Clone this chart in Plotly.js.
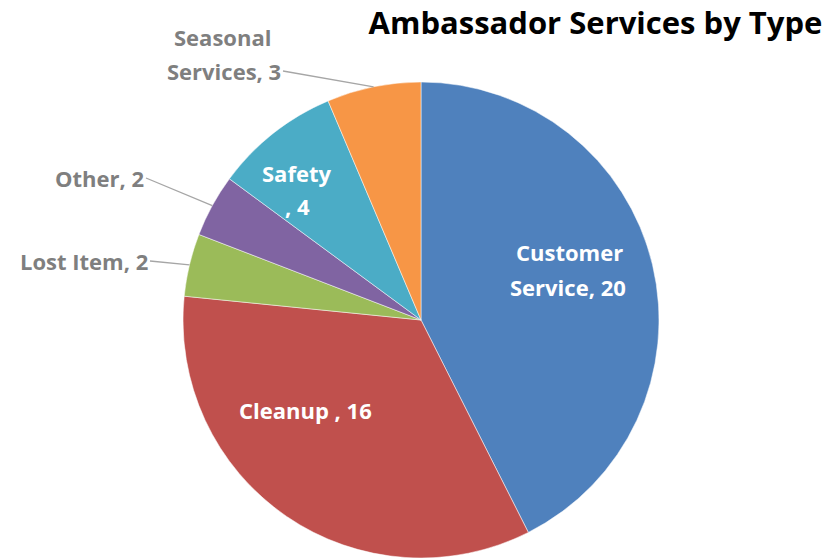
<!DOCTYPE html>
<html>
<head>
<meta charset="utf-8">
<script src="https://cdn.plot.ly/plotly-3.0.1.min.js"></script>
<style>
  body { margin: 0; background: #fff; }
  #chart { width: 840px; height: 559px; }
</style>
</head>
<body>
<div id="chart"></div>
<script>
// slices, clockwise from 12 o'clock
const categories = ['Customer Service', 'Cleanup', 'Lost Item', 'Other', 'Safety', 'Seasonal Services'];
const values = [20, 16, 2, 2, 4, 3];
// data label lines, as Excel shows them
const labelLines = [
  ['Customer', 'Service, 20'],
  ['Cleanup , 16'],
  ['Lost Item, 2'],
  ['Other, 2'],
  ['Safety', ', 4'],
  ['Seasonal', 'Services, 3']
];
const colors = ['#4f81bd', '#c0504d', '#9bbb59', '#8064a2', '#4bacc6', '#f79646'];

const W = 840, H = 559;
const FONT = '"Open Sans", sans-serif';

// pie box in pixels
const cx = 421, cy = 320, R = 238;
const domain = {
  x: [(cx - R) / W, (cx + R) / W],
  y: [(H - cy - R) / H, (H - cy + R) / H]
};

// label placement in pixels: centre of each line, except the last line of an
// outside label, which is given by its right/middle point (leader line start)
const labelPlace = [
  { lines: [[569, 252], [568, 287]], inside: true },
  { lines: [[305, 410]], inside: true },
  { lines: [[150, 261]], inside: false },
  { lines: [[146, 178]], inside: false },
  { lines: [[296, 173], [297, 206]], inside: true },
  { lines: [[222, 37], [283, 71]], inside: false }
];

const total = values.reduce((a, b) => a + b, 0);
const annotations = [];
let cum = 0;
values.forEach((v, i) => {
  const mid = (cum + v / 2) / total * 2 * Math.PI;
  cum += v;
  const place = labelPlace[i];
  labelLines[i].forEach((txt, j) => {
    const [lx, ly] = place.lines[j];
    const last = j === labelLines[i].length - 1;
    const ann = {
      x: lx / W, y: 1 - ly / H, xref: 'paper', yref: 'paper',
      text: txt, showarrow: false,
      xanchor: 'center', yanchor: 'middle',
      font: { family: FONT, size: 22, color: place.inside ? '#ffffff' : '#7f7f7f', weight: 'bold' }
    };
    if (!place.inside && last) {
      // leader line from the label's right edge to the middle of the slice's arc
      const px = cx + R * Math.sin(mid);
      const py = cy - R * Math.cos(mid);
      Object.assign(ann, {
        x: px / W, y: 1 - py / H,
        showarrow: true, arrowhead: 0, arrowwidth: 1.3, arrowcolor: '#a6a6a6',
        ax: lx - px, ay: ly - py,
        xanchor: 'right'
      });
    }
    annotations.push(ann);
  });
});

const trace = {
  type: 'pie',
  labels: categories,
  values: values,
  textinfo: 'none',
  marker: { colors: colors, line: { color: '#ffffff', width: 0.5 } },
  sort: false,
  direction: 'clockwise',
  rotation: 0,
  domain: domain,
  showlegend: false
};

const layout = {
  width: W, height: H,
  margin: { l: 0, r: 0, t: 0, b: 0 },
  paper_bgcolor: '#ffffff',
  title: {
    text: 'Ambassador Services by Type',
    font: { family: FONT, size: 31, color: '#000000', weight: 'bold' },
    x: 0.979, xanchor: 'right', y: 0.958, yanchor: 'middle'
  },
  annotations: annotations
};

Plotly.newPlot('chart', [trace], layout, { displayModeBar: false, staticPlot: true });
</script>
</body>
</html>
